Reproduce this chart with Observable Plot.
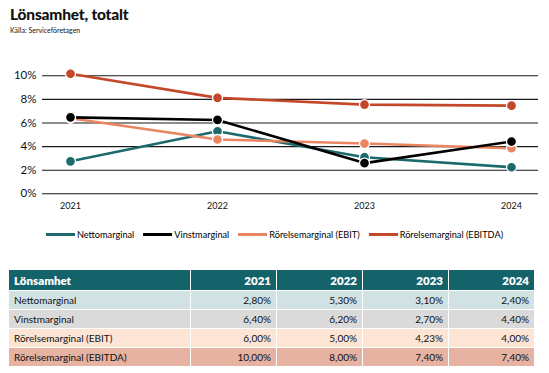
<!DOCTYPE html>
<html><head><meta charset="utf-8">
<script src="https://cdn.jsdelivr.net/npm/d3@7"></script>
<script src="https://cdn.jsdelivr.net/npm/@observablehq/plot@0.6"></script>
<style>
body{margin:0;background:#fff;font-family:Lato,"Open Sans",sans-serif;color:#111;}
#page{position:relative;width:549px;height:373px;overflow:hidden;}
#title{position:absolute;left:10px;top:5px;font-size:15.5px;font-weight:900;letter-spacing:-0.2px;}
#sub{position:absolute;left:10px;top:26px;font-size:7px;}
#chart{position:absolute;left:0;top:60px;}
#legend{position:absolute;left:0;top:229px;width:549px;display:flex;justify-content:center;gap:9px;font-size:9.2px;color:#000;}
.li{display:flex;align-items:center;gap:2px;}
.sw{width:29px;height:3px;display:inline-block;}
#tbl{position:absolute;left:9px;top:270px;border-collapse:collapse;font-size:10px;}
#tbl td,#tbl th{padding:0 5px;border-right:1px solid #fff;}
#tbl th{height:20px;background:#14636a;color:#fff;font-weight:800;font-size:11.5px;}
#tbl td{height:18px;}
#tbl .lab{width:171px;text-align:left;}
#tbl .num{width:75px;text-align:right;}
#tbl tr.r td{border-top:1px solid #fff;}
</style></head>
<body><div id="page">
<div id="title">Lönsamhet, totalt</div>
<div id="sub">Källa: Serviceföretagen</div>
<div id="chart"></div>
<div id="legend"></div>
<table id="tbl"></table>
</div>
<script>
const years = ["2021","2022","2023","2024"];
const seriesNames = ["Nettomarginal","Vinstmarginal","Rörelsemarginal (EBIT)","Rörelsemarginal (EBITDA)"];
const colors = ["#1d6a6d","#000000","#ea8562","#c4472a"];
// values as drawn in the line chart
const netto = [2.75, 5.3, 3.1, 2.25];
const vinst = [6.48, 6.26, 2.6, 4.43];
const ebit = [6.4, 4.6, 4.26, 3.86];
const ebitda = [10.17, 8.13, 7.56, 7.47];
const yTicks = [0, 2, 4, 6, 8, 10];
// table text
const tableHeader = "Lönsamhet";
const tNetto = ["2,80%","5,30%","3,10%","2,40%"];
const tVinst = ["6,40%","6,20%","2,70%","4,40%"];
const tEbit = ["6,00%","5,00%","4,23%","4,00%"];
const tEbitda = ["10,00%","8,00%","7,40%","7,40%"];
const rowBg = ["#d2e1e4","#dadada","#fde4d4","#e6b2a2"];

const seriesVals = [netto, vinst, ebit, ebitda];
const data = [];
seriesNames.forEach((s, i) => years.forEach((y, j) => data.push({series: s, year: y, value: seriesVals[i][j]})));
const drawOrder = ["Nettomarginal","Rörelsemarginal (EBIT)","Vinstmarginal","Rörelsemarginal (EBITDA)"];

const marks = [
  Plot.ruleY(yTicks, {stroke: "#1a1a1a", strokeWidth: 1.1}),
  Plot.axisY({ticks: yTicks, tickFormat: d => d + "%", tickSize: 0, tickPadding: 6, fontSize: 11.5, label: null}),
  Plot.axisX({tickSize: 0, tickPadding: 9, fontSize: 9, label: null})
];
for (const s of drawOrder) {
  const d = data.filter(r => r.series === s);
  marks.push(Plot.line(d, {x: "year", y: "value", stroke: "series", strokeWidth: 2.6}));
}
for (const s of drawOrder) {
  const d = data.filter(r => r.series === s);
  marks.push(Plot.dot(d, {x: "year", y: "value", fill: "series", stroke: "#fff", strokeWidth: 1.3, r: 5}));
}
const chart = Plot.plot({
  width: 549, height: 160,
  marginLeft: 42, marginRight: 11, marginTop: 15.3, marginBottom: 26.7,
  style: {fontFamily: "Lato, sans-serif", color: "#111", background: "transparent"},
  x: {type: "point", domain: years, padding: 0.18},
  y: {domain: [0, 10]},
  color: {domain: seriesNames, range: colors},
  marks
});
document.getElementById("chart").appendChild(chart);

const leg = document.getElementById("legend");
seriesNames.forEach((s, i) => {
  const el = document.createElement("div");
  el.className = "li";
  el.innerHTML = `<span class="sw" style="background:${colors[i]}"></span><span>${s}</span>`;
  leg.appendChild(el);
});

const tbl = document.getElementById("tbl");
let html = `<tr><th class="lab">${tableHeader}</th>` + years.map(y => `<th class="num">${y}</th>`).join("") + "</tr>";
[tNetto, tVinst, tEbit, tEbitda].forEach((vals, i) => {
  html += `<tr class="r" style="background:${rowBg[i]}"><td class="lab">${seriesNames[i]}</td>` + vals.map(v => `<td class="num">${v}</td>`).join("") + "</tr>";
});
tbl.innerHTML = html;
</script>
</body></html>
